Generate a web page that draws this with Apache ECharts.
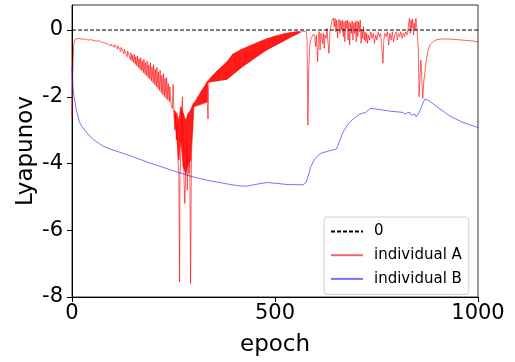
<!DOCTYPE html>
<html>
<head>
<meta charset="utf-8">
<script src="https://cdn.jsdelivr.net/npm/echarts@6/dist/echarts.min.js"></script>
<style>html,body{margin:0;padding:0;background:#fff}#c{width:515px;height:362px}</style>
</head>
<body>
<div id="c"></div>
<script>
// ---- data (epoch, Lyapunov) ----
const xTicks = [0, 500, 1000];
const yTicks = [-8, -6, -4, -2, 0];
const zeroLine = [[0, 0], [1000, 0]];

const redEarly = [[0,-2.6],[2,-1.2],[4,-0.45],[7,-0.3],[12,-0.26],[18,-0.25],[24,-0.28],[30,-0.26],[36,-0.29],[42,-0.3],[48,-0.29],[54,-0.32],[60,-0.33],[66,-0.32],[72,-0.36],[78,-0.38],[84,-0.4],[90,-0.44]];
const redSaw = [[96,-0.48],[97,-0.42],[104,-0.52],[105,-0.44],[112,-0.57],[113,-0.47],[120,-0.64],[121,-0.52],[128,-0.72],[129,-0.58],[136,-0.8],[137,-0.63],[144,-0.88],[145,-0.68],
  [148,-0.93],[149,-0.75],[152,-0.98],[153,-0.72],[156,-1.03],[157,-0.8],[160,-1.08],[161,-0.78],[164,-1.13],[165,-0.86],[168,-1.18],[169,-0.83],[172,-1.23],[173,-0.92],[176,-1.28],[177,-0.88],
  [180,-1.33],[181,-0.98],[184,-1.38],[185,-0.93],[188,-1.43],[189,-1.04],[192,-1.48],[193,-0.98],[196,-1.53],[197,-1.1],[200,-1.58],[201,-1.04],[204,-1.64],[205,-1.18],[208,-1.7],[209,-1.12],
  [212,-1.76],[213,-1.26],[216,-1.82],[217,-1.2],[220,-1.88],[221,-1.36],[224,-1.94],[225,-1.3],[228,-2.0],[229,-1.45],[232,-2.05],[233,-1.42],[236,-2.1],[237,-1.6]];
const redDip = [[240,-2.15],[241,-1.7],[244,-2.25],[247,-2.35],[249,-1.63],[251,-2.5],[253,-3.0],[255,-2.5],[257,-3.3],[259,-2.8],[261,-3.9],[263,-4.3],[265,-7.55],[266,-4.4],[268,-3.6],[270,-2.6],[272,-2.0],[274,-3.2],[276,-4.5],[278,-5.2],[280,-4.2],[282,-3.4],[284,-4.8],[286,-3.8],[288,-4.3],[290,-3.9],[292,-7.6],[294,-4.0],[296,-3.0],[298,-2.4],[300,-2.2]];
const redBandLine = [[305,-2.28],[315,-2.24],[325,-2.2],[333,-2.15],[335,-2.67],[337,-1.56],[350,-1.53],[365,-1.5],[380,-1.48],[396,-1.33],[417,-1.12],[438,-0.94],[459,-0.76],[480,-0.59],[500,-0.46],[519,-0.34],[540,-0.2],[561,-0.08]];
const redLate = [[565,-0.04],[570,-0.03],[574,0.0],[577,-0.05],[579,-0.3],[581,-2.85],[583,-1.2],[586,-0.4],[589,-0.25],[592,-0.18],[595,-0.12],[598,-0.2],[600,-0.5],[602,-0.15],[605,-0.95],[607,-0.2],[609,-0.05],[611,-0.6],[613,-0.1],[615,-0.05],[617,-0.4],[619,-0.1],[621,-0.55],[623,-0.15],[626,-0.25],[628,0.05],[630,-0.3],[633,-0.7],[635,-0.1],[638,0.15],[641,0.3],[644,0.36],[646,0.1],[648,0.35],[650,-0.05],[652,0.3],[654,-0.24],[656,0.2],[658,0.32],[660,-0.1],[662,0.28],[664,0.0],[666,0.3],[668,-0.2],[670,0.25],[672,-0.35],[674,0.28],[676,0.05],[678,0.3],[680,-0.3],[682,0.25],[684,-0.45],[686,0.2],[688,-0.1],[690,0.27],[692,-0.3],[694,0.22],[696,-0.1],[698,0.25],[700,-0.35],[702,0.28],[704,-0.2],[706,0.25],[708,-0.05],[710,0.3],[712,-0.4],[714,0.0],[716,-0.25],[718,0.1],[720,-0.3],[722,-0.05],[724,-0.35],[726,-0.1],[728,-0.4],[730,-0.15],[733,-0.3],[736,-0.05],[739,-0.25],[742,-0.1],[745,-0.4],[748,-0.15],[751,-0.3],[754,-0.05],[757,-0.2],[760,-0.1],[763,-0.5],[766,-1.0],[768,-0.3],[771,-0.1],[774,-0.2],[777,-0.05],[780,-0.45],[783,-0.1],[786,-0.3],[789,-0.05],[792,-0.35],[795,-0.15],[798,-0.05],[801,-0.3],[804,-0.1],[807,-0.2],[810,-0.05],[813,-0.25],[816,-0.1],[819,-0.2],[822,-0.05],[825,-0.15],[828,0.05],[831,0.35],[833,-0.1],[835,0.3],[837,0.05],[839,0.33],[841,-0.15],[843,0.2],[845,0.0],[847,0.35],[849,0.1],[851,-0.2],[853,-0.6],[855,-2.0],[857,-1.5],[859,-0.9],[861,-1.1],[862,-1.6],[864,-2.05],[866,-1.6],[869,-1.3],[872,-0.95],[875,-0.75],[878,-0.55],[882,-0.44],[890,-0.34],[898,-0.29],[910,-0.27],[931,-0.27],[960,-0.3],[980,-0.32],[1000,-0.35]];

// dense oscillation envelopes of individual A
const dipEpochs = [252, 258, 263, 268, 274, 280, 286, 292, 297, 300];
const dipUpper  = [-2.4, -2.5, -2.7, -2.3, -2.5, -2.7, -2.5, -2.4, -2.25, -2.2];
const dipLower  = [-2.6, -3.2, -3.9, -3.3, -4.1, -4.3, -4.0, -3.9, -3.0, -2.3];
const bandEpochs = [300, 310, 320, 333, 334, 345, 357, 369, 380, 381, 396, 417, 438, 459, 480, 500, 519, 540, 561];
const bandUpper  = [-2.2, -2.0, -1.8, -1.55, -1.53, -1.38, -1.23, -1.09, -0.97, -0.96, -0.72, -0.58, -0.47, -0.36, -0.26, -0.18, -0.12, -0.07, -0.04];
const bandLower  = [-2.3, -2.25, -2.2, -2.15, -1.56, -1.54, -1.52, -1.5, -1.48, -1.48, -1.33, -1.12, -0.94, -0.76, -0.59, -0.46, -0.34, -0.2, -0.08];

const blueB = [[0,-1.1],[2,-1.65],[5,-2.0],[10,-2.35],[18,-2.75],[25,-2.9],[35,-3.06],[51,-3.27],[75,-3.47],[92,-3.56],[117,-3.66],[142,-3.76],[166,-3.87],[191,-3.98],[216,-4.08],[240,-4.18],[265,-4.28],[290,-4.37],[314,-4.45],[340,-4.52],[364,-4.57],[390,-4.63],[413,-4.67],[430,-4.68],[450,-4.63],[479,-4.57],[500,-4.59],[530,-4.63],[569,-4.64],[576,-4.58],[581,-4.4],[588,-4.1],[598,-3.86],[612,-3.7],[627,-3.64],[647,-3.58],[652,-3.56],[667,-3.07],[680,-2.82],[692,-2.67],[709,-2.52],[725,-2.46],[734,-2.35],[750,-2.37],[783,-2.43],[815,-2.47],[820,-2.52],[826,-2.48],[832,-2.47],[836,-2.55],[840,-2.58],[844,-2.52],[848,-2.6],[851,-2.59],[856,-2.45],[861,-2.28],[869,-2.07],[877,-2.1],[897,-2.28],[931,-2.58],[963,-2.77],[997,-2.91],[1000,-2.92]];

const redA = redEarly.concat(redSaw, redDip, redBandLine, redLate);
function quads(ep, up, lo) {
  const out = [];
  for (let i = 0; i < ep.length - 1; i++) out.push([ep[i], up[i], lo[i], ep[i + 1], up[i + 1], lo[i + 1]]);
  return out;
}
const bandData = quads(dipEpochs, dipUpper, dipLower).concat(quads(bandEpochs, bandUpper, bandLower));

const FONT = 'DejaVu Sans';
const chart = echarts.init(document.getElementById('c'), null, {renderer: 'canvas'});
chart.setOption({
  animation: false,
  backgroundColor: '#fff',
  grid: {left: 72, right: 37, top: 5, bottom: 63, show: true, borderColor: '#333', borderWidth: 1, backgroundColor: 'transparent'},
  xAxis: {
    type: 'value', min: 0, max: 1000, interval: 500,
    axisLine: {show: true, onZero: false, lineStyle: {color: '#000', width: 1}},
    axisTick: {show: true, length: 5, lineStyle: {color: '#000'}, customValues: xTicks},
    axisLabel: {fontSize: 21, color: '#000', fontFamily: FONT, margin: 6, customValues: xTicks, formatter: function (v) { return String(v); }},
    splitLine: {show: false},
    name: 'epoch', nameLocation: 'middle', nameGap: 37, nameMoveOverlap: false,
    nameTextStyle: {fontSize: 23, color: '#000', fontFamily: FONT}
  },
  yAxis: {
    type: 'value', min: -8, max: 0.75,
    axisLine: {show: true, onZero: false, lineStyle: {color: '#000', width: 1}},
    axisTick: {show: true, length: 5, lineStyle: {color: '#000'}, customValues: yTicks},
    axisLabel: {fontSize: 21, color: '#000', fontFamily: FONT, margin: 9, customValues: yTicks, formatter: function (v) { return String(v); }},
    splitLine: {show: false},
    name: 'Lyapunov', nameLocation: 'middle', nameGap: 34, nameRotate: 90, nameMoveOverlap: false,
    nameTextStyle: {fontSize: 23, color: '#000', fontFamily: FONT}
  },
  legend: {
    data: ['0', 'individual A', 'individual B'],
    orient: 'vertical', left: 324, top: 217,
    padding: [7, 7, 8, 6], itemGap: 8.7, itemWidth: 32, itemHeight: 14,
    itemStyle: {opacity: 0},
    backgroundColor: 'rgba(255,255,255,0.8)', borderColor: '#d0d0d0', borderWidth: 1, borderRadius: 3,
    textStyle: {fontSize: 15, lineHeight: 14, color: '#000', fontFamily: FONT, padding: [0, 0, 0, 6]}
  },
  series: [
    {
      name: 'band', type: 'custom', silent: true, z: 2,
      data: bandData,
      encode: {x: [0, 3], y: [1, 2, 4, 5]},
      renderItem: function (params, api) {
        const p1 = api.coord([api.value(0), api.value(1)]);
        const p2 = api.coord([api.value(3), api.value(4)]);
        const p3 = api.coord([api.value(3), api.value(5)]);
        const p4 = api.coord([api.value(0), api.value(2)]);
        return {type: 'polygon', shape: {points: [p1, p2, p3, p4]},
          style: {fill: '#ff1a1a', stroke: '#ff1a1a', lineWidth: 0.6}};
      }
    },
    {
      name: 'individual A', type: 'line', data: redA, symbol: 'none', z: 3,
      lineStyle: {color: 'rgba(255,0,0,0.62)', width: 1}, itemStyle: {color: 'rgba(255,0,0,0.62)'}
    },
    {
      name: 'individual B', type: 'line', data: blueB, symbol: 'none', z: 3,
      lineStyle: {color: 'rgba(0,0,255,0.55)', width: 1}, itemStyle: {color: 'rgba(0,0,255,0.55)'}
    },
    {
      name: '0', type: 'line', data: zeroLine, symbol: 'none', z: 4,
      lineStyle: {color: '#000', width: 1, type: [4, 2]}, itemStyle: {color: '#000'}
    }
  ]
});
</script>
</body>
</html>
